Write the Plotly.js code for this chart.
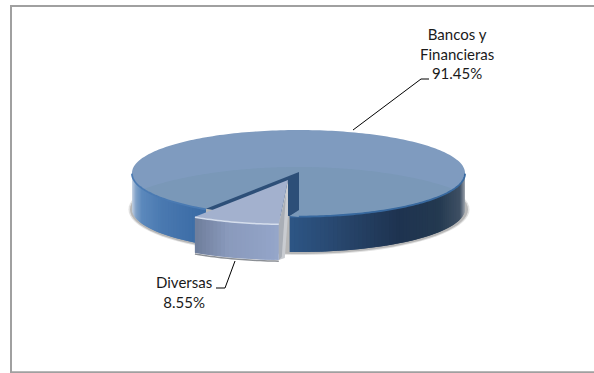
<!DOCTYPE html>
<html>
<head>
<meta charset="utf-8">
<script src="https://cdn.plot.ly/plotly-3.0.1.min.js"></script>
<style>html,body{margin:0;padding:0;background:#fff}#c{width:594px;height:373px}</style>
</head>
<body>
<div id="c"></div>
<script>
// Data
const categories = ["Diversas", "Bancos y<br>Financieras"];
const shares = [8.55, 91.45];
const percentLabels = ["8.55%", "91.45%"];

// Colour ramps along the width of the side walls (fraction of pie width, colour)
const bodyRampPos = [0, 0.012, 0.03, 0.09, 0.2, 0.47, 0.62, 0.8, 0.92, 0.985, 1];
const bodyRampCol = ["#c4d2e2", "#7fa1c8", "#5b88bc", "#4a79b0", "#3b6ca6", "#2d5686", "#28476e", "#1e3350", "#233950", "#3f5064", "#9aa2ac"];
const sliceRampPos = [0, 0.15, 0.6, 1];
const sliceRampCol = ["#96a7ca", "#91a2c6", "#8a9abc", "#6e7d9b"];

// Drawing geometry
const cx = 298.5, cy = 173, rx = 166.5, ry = 43, depth = 36;
const startAngle = 183;
const sliceShift = [-11, 8];
const topColour = "#7f9bbf", innerColour = "#7a98b8", wallColour = "#2d4f78";

const hex = c => [1, 3, 5].map(i => parseInt(c.substr(i, 2), 16));
function ramp(pos, col, t) {
  t = Math.max(0, Math.min(1, t));
  let i = 0;
  while (i < pos.length - 2 && t > pos[i + 1]) i++;
  const f = (t - pos[i]) / (pos[i + 1] - pos[i]);
  const a = hex(col[i]), b = hex(col[i + 1]);
  return "rgb(" + a.map((v, k) => Math.round(v + (b[k] - v) * f)).join(",") + ")";
}
const pt = (deg, dx = 0, dy = 0) => {
  const r = deg * Math.PI / 180;
  return [cx + rx * Math.sin(r) + dx, cy - ry * Math.cos(r) + dy];
};
const arc = (a, b, dx = 0, dy = 0, n = 60) => {
  const out = [];
  for (let i = 0; i <= n; i++) out.push(pt(a + (b - a) * i / n, dx, dy));
  return out;
};
const traces = [];
function poly(points, fill, lineColour, lineWidth) {
  traces.push({
    type: "scatter", mode: "lines", hoverinfo: "skip", showlegend: false,
    x: points.map(p => p[0]), y: points.map(p => p[1]),
    fill: fill ? "toself" : "none", fillcolor: fill || undefined,
    line: { color: lineColour || fill || "rgba(0,0,0,0)", width: lineWidth === undefined ? 0 : lineWidth, simplify: false }
  });
}
function ellipse(c0, c1, a, b, fill) {
  const pts = [];
  for (let i = 0; i <= 90; i++) { const r = i * 4 * Math.PI / 180; pts.push([c0 + a * Math.cos(r), c1 + b * Math.sin(r)]); }
  poly(pts, fill);
}

const total = shares[0] + shares[1];
const sweep = shares[0] / total * 360;
const aStart = startAngle, aEnd = startAngle + sweep;

// Soft ground shadow
ellipse(cx + 0.5, cy + depth + 0.5, rx + 4, ry + 2.5, "rgba(170,170,170,0.35)");
ellipse(cx + 0.5, cy + depth + 0.5, rx + 2.5, ry + 1.5, "rgba(150,150,150,0.55)");

// Side wall strips; each one overlaps the next so no seams show
function sideStrips(a, b, dx, dy, rampPos, rampCol, x0, x1, step) {
  const n = Math.ceil(Math.abs(b - a) / step);
  for (let i = 0; i < n; i++) {
    const a0 = a + (b - a) * i / n, a1 = a + (b - a) * Math.min(n, i + 2) / n;
    const amid = a + (b - a) * (i + 0.5) / n;
    const p0 = pt(a0, dx, dy), p1 = pt(a1, dx, dy), pm = pt(amid, dx, dy);
    const col = ramp(rampPos, rampCol, (pm[0] - x0) / (x1 - x0));
    poly([p0, p1, [p1[0], p1[1] + depth], [p0[0], p0[1] + depth], p0], col);
  }
}
sideStrips(270, aEnd, 0, 0, bodyRampPos, bodyRampCol, cx - rx, cx + rx, 1.5);
sideStrips(90, aStart, 0, 0, bodyRampPos, bodyRampCol, cx - rx, cx + rx, 1.5);

// Top of the large slice
const apex = [cx + 0.5, cy - 1];
poly(arc(aEnd, aStart + 360, 0, 0, 240).concat([apex]), topColour);

// Darker inner reflection on the top face
const ix = cx, iy = 230, irx = 204, iry = 63;
const upper = [], lower = [];
for (let x = cx - rx + 1; x <= cx + rx - 1; x += 2) {
  const yIn = iy - iry * Math.sqrt(Math.max(0, 1 - Math.pow((x - ix) / irx, 2)));
  const yRim = cy + ry * Math.sqrt(Math.max(0, 1 - Math.pow((x - cx) / rx, 2)));
  if (yIn < yRim - 0.5) { upper.push([x, yIn]); lower.unshift([x, yRim]); }
}
poly(upper.concat(lower), innerColour);

// Rim highlight on the large slice
poly(arc(aEnd, 270, 0, 0.6, 40), null, "#4a7ab2", 1.8);
poly(arc(90, aStart, 0, 0.6, 80), null, "#38699f", 1.8);

// Opening left by the pulled-out slice
const hole = [apex, [apex[0], apex[1] + 38], pt(aStart)].concat(arc(aStart, aEnd, 0, 0, 20)).concat([apex]);
poly(hole, wallColour);
poly([pt(aStart), [pt(aStart)[0] + 9, pt(aStart)[1] - 5], [pt(aStart)[0] + 9, pt(aStart)[1] + 1], pt(aStart)], innerColour);

// Pulled-out slice
const [sdx, sdy] = sliceShift;
const sApex = [cx + 0.5 + sdx, cy - 1 + sdy];
const sR = pt(aStart, sdx, sdy), sL = pt(aEnd, sdx, sdy);

// Shadow under it, cut face, side wall, top, highlight
poly(arc(aStart, aEnd, sdx, sdy + depth + 1.2, 24), null, "#8b8f95", 1.5);
poly([sApex, [sApex[0], sApex[1] + depth - 1], [sR[0] + 6, sR[1] + depth - 2], [sR[0], sR[1] + depth], sR, sApex], "#c9ccd1");
poly([[sApex[0] - 2, sApex[1] + 14], [sR[0] + 3, sR[1] + depth - 3], [sR[0], sR[1] + depth], sR, [sApex[0] - 2, sApex[1] + 14]], "#a9aeb6");
sideStrips(aStart, aEnd, sdx, sdy, sliceRampPos, sliceRampCol, sR[0], sL[0], 1.5);
poly(arc(aStart, aEnd, sdx, sdy, 24).concat([sApex]), "#a3b1ce");
poly(arc(aStart, aEnd, sdx, sdy + 0.4, 24), null, "#d5deed", 1.5);

// Leader lines
const leaders = [
  { x: [353, 421, 429], y: [130, 79, 79] },
  { x: [235, 225, 216], y: [261, 288, 288] }
];
leaders.forEach(l => traces.push({
  type: "scatter", mode: "lines", hoverinfo: "skip", showlegend: false,
  x: l.x, y: l.y, line: { color: "#000", width: 1 }
}));

// Data labels
const font = { family: "Lato, Carlito, Calibri, sans-serif", size: 15, color: "#1a1a1a" };
const annotations = [
  { x: 457, y: 53, text: categories[1] + "<br>" + percentLabels[1] },
  { x: 184, y: 292, text: categories[0] + "<br>" + percentLabels[0] }
].map(a => Object.assign(a, { xref: "x", yref: "y", showarrow: false, align: "center", font }));

// Frame: the reference shows its top, left and bottom edges only
const frameLine = { color: "#a0a0a0", width: 2 };
const frame = [[11, 6, 594, 6], [11, 5, 11, 373], [11, 372.3, 594, 372.3]].map(s => ({
  type: "line", xref: "x", yref: "y", x0: s[0], y0: s[1], x1: s[2], y1: s[3], line: frameLine, layer: "below"
}));

const layout = {
  width: 594, height: 373,
  margin: { l: 0, r: 0, t: 0, b: 0 },
  paper_bgcolor: "#fff", plot_bgcolor: "#fff",
  showlegend: false,
  xaxis: { range: [0, 594], visible: false, fixedrange: true },
  yaxis: { range: [373, 0], visible: false, fixedrange: true },
  annotations,
  shapes: frame
};
Plotly.newPlot("c", traces, layout, { displayModeBar: false, staticPlot: true });
</script>
</body>
</html>
